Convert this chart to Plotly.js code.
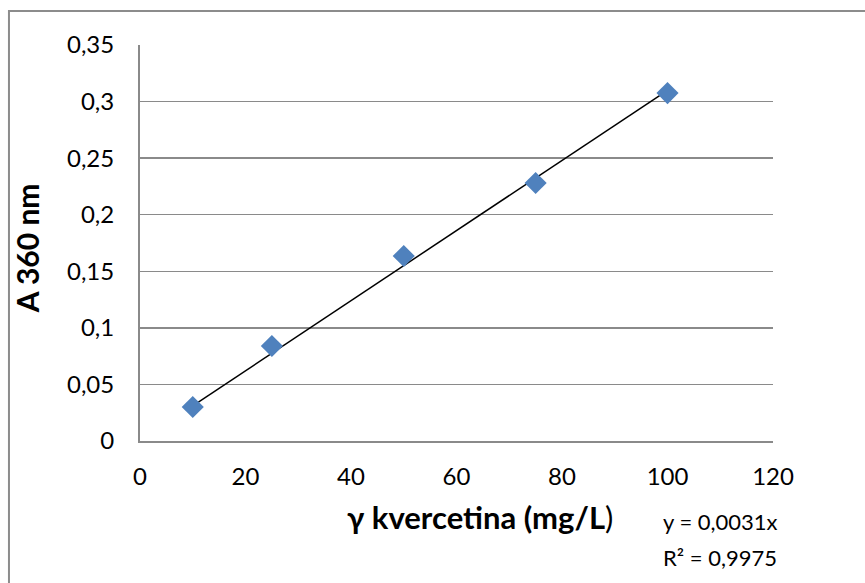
<!DOCTYPE html>
<html>
<head>
<meta charset="utf-8">
<script src="https://cdn.plot.ly/plotly-3.0.1.min.js"></script>
<style>
html,body{margin:0;padding:0;background:#fff;}
#chart{width:865px;height:583px;}
</style>
</head>
<body>
<div id="chart"></div>
<script>
const concentration = [10, 25, 50, 75, 100];
const absorbance = [0.030, 0.084, 0.1635, 0.228, 0.3075];
const slope = 0.0031;
const r2Text = "0,9975";
const xTicks = [0, 20, 40, 60, 80, 100, 120];
const yTicks = [0, 0.05, 0.1, 0.15, 0.2, 0.25, 0.3, 0.35];
const yTickText = ["0", "0,05", "0,1", "0,15", "0,2", "0,25", "0,3", "0,35"];
const xTitle = "γ kvercetina (mg/L";
const yTitle = "A 360 nm";

const xMin = Math.min(...concentration), xMax = Math.max(...concentration);
const trendX = [xMin, xMax];
const trendY = trendX.map(v => slope * v);

const FONT = "Lato, 'Open Sans', sans-serif";
const grid = "#8a8a8a";

const traces = [
  {
    x: trendX, y: trendY, mode: "lines", type: "scatter",
    line: {color: "#000000", width: 1.5}, hoverinfo: "skip", showlegend: false
  },
  {
    x: concentration, y: absorbance, mode: "markers", type: "scatter",
    marker: {symbol: "diamond", size: 17, color: "#4F81BD", line: {width: 0}},
    showlegend: false
  }
];

const layout = {
  width: 865, height: 583,
  margin: {l: 140, r: 92, t: 45, b: 142},
  paper_bgcolor: "#ffffff", plot_bgcolor: "#ffffff",
  separators: ", ",
  font: {family: FONT, size: 24, color: "#000000"},
  xaxis: {
    range: [0, 120], tickvals: xTicks, ticktext: xTicks.map(String),
    showgrid: false, zeroline: false, showline: true, linecolor: grid, linewidth: 2,
    ticks: "", ticklabelstandoff: 13,
    tickfont: {family: FONT, size: 24, color: "#000"}
  },
  yaxis: {
    range: [0, 0.35], tickvals: yTicks, ticktext: yTickText,
    showgrid: true, gridcolor: grid, gridwidth: 1.5,
    zeroline: false, showline: true, linecolor: grid, linewidth: 2,
    ticks: "", ticklabelstandoff: 19,
    tickfont: {family: FONT, size: 24, color: "#000"}
  },
  annotations: [
    {xref: "paper", yref: "paper", x: 0.537, y: -0.192, xanchor: "center", yanchor: "middle",
     text: "<b>" + xTitle + "</b>)", showarrow: false, font: {family: FONT, size: 31, color: "#000"}},
    {xref: "paper", yref: "paper", x: -0.1785, y: 0.487, xanchor: "center", yanchor: "middle",
     textangle: -90, text: "<b>" + yTitle + "</b>", showarrow: false, font: {family: FONT, size: 30, color: "#000"}},
    {xref: "paper", yref: "paper", x: 0.823, y: -0.2045, xanchor: "left", yanchor: "middle",
     text: "y = 0,0031x", showarrow: false, font: {family: FONT, size: 22, color: "#000"}},
    {xref: "paper", yref: "paper", x: 0.823, y: -0.293, xanchor: "left", yanchor: "middle",
     text: "R² = " + r2Text, showarrow: false, font: {family: FONT, size: 22, color: "#000"}}
  ],
  shapes: [
    {type: "rect", xref: "paper", yref: "paper", x0: -0.207, x1: 1.5, y0: -1, y1: 1.086,
     line: {color: "#8c8c8c", width: 2}, fillcolor: "rgba(0,0,0,0)", layer: "below"}
  ]
};

Plotly.newPlot("chart", traces, layout, {displayModeBar: false, staticPlot: true});
</script>
</body>
</html>
